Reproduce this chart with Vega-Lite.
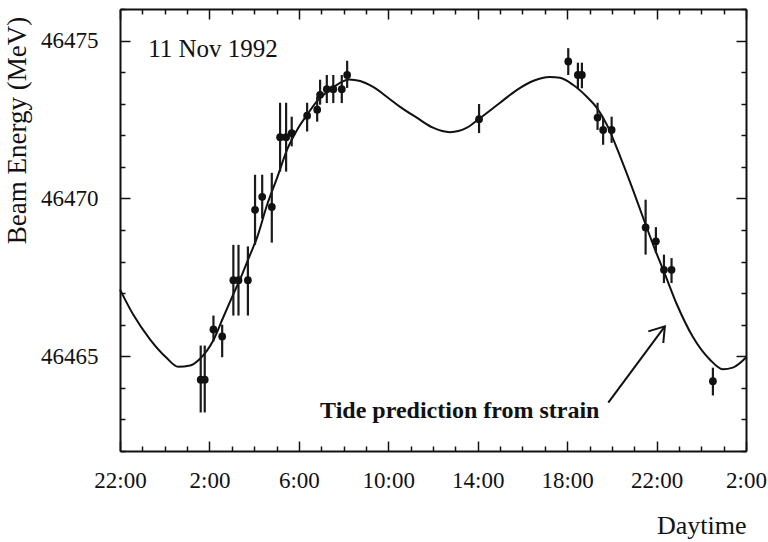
{
  "$schema": "https://vega.github.io/schema/vega-lite/v6.json",
  "width": 626,
  "height": 442,
  "autosize": {"type": "none"},
  "padding": {"left": 120, "top": 9, "right": 22, "bottom": 91},
  "background": "white",
  "config": {
    "font": "Liberation Serif",
    "view": {"stroke": null},
    "axis": {
      "grid": false,
      "domainColor": "#111",
      "domainWidth": 2,
      "tickColor": "#111",
      "tickWidth": 1.5,
      "labelFont": "Liberation Serif",
      "labelFontSize": 23,
      "labelColor": "#111",
      "labelFontWeight": "normal",
      "titleFont": "Liberation Serif",
      "titleFontWeight": "normal",
      "titleColor": "#111"
    }
  },
  "datasets": {
    "curve": [
      {"h": -2.0, "v": 46467.11}, {"h": -1.41, "v": 46466.32}, {"h": -0.65, "v": 46465.53},
      {"h": 0.07, "v": 46464.96}, {"h": 0.6, "v": 46464.67}, {"h": 1.14, "v": 46464.71},
      {"h": 1.59, "v": 46464.93}, {"h": 2.17, "v": 46465.5}, {"h": 2.61, "v": 46466.22},
      {"h": 3.06, "v": 46466.95}, {"h": 3.46, "v": 46467.59}, {"h": 3.82, "v": 46468.22},
      {"h": 4.13, "v": 46468.76}, {"h": 4.58, "v": 46469.8}, {"h": 5.03, "v": 46470.66},
      {"h": 5.47, "v": 46471.54}, {"h": 5.92, "v": 46472.17}, {"h": 6.37, "v": 46472.65},
      {"h": 6.86, "v": 46473.12}, {"h": 7.4, "v": 46473.44}, {"h": 7.84, "v": 46473.66},
      {"h": 8.25, "v": 46473.77}, {"h": 8.74, "v": 46473.72}, {"h": 9.32, "v": 46473.53},
      {"h": 9.99, "v": 46473.19}, {"h": 10.53, "v": 46472.9}, {"h": 11.29, "v": 46472.55},
      {"h": 12.0, "v": 46472.24}, {"h": 12.76, "v": 46472.1}, {"h": 13.52, "v": 46472.24},
      {"h": 14.06, "v": 46472.52}, {"h": 15.0, "v": 46473.03}, {"h": 15.76, "v": 46473.44},
      {"h": 16.47, "v": 46473.72}, {"h": 17.23, "v": 46473.85}, {"h": 17.68, "v": 46473.82},
      {"h": 18.26, "v": 46473.6}, {"h": 18.88, "v": 46473.22}, {"h": 19.33, "v": 46472.87},
      {"h": 19.78, "v": 46472.33}, {"h": 20.36, "v": 46471.35}, {"h": 20.94, "v": 46470.28},
      {"h": 21.48, "v": 46469.23}, {"h": 21.93, "v": 46468.38}, {"h": 22.33, "v": 46467.68},
      {"h": 22.91, "v": 46466.64}, {"h": 23.62, "v": 46465.62}, {"h": 24.38, "v": 46464.9},
      {"h": 24.96, "v": 46464.59}, {"h": 25.41, "v": 46464.64}, {"h": 26.0, "v": 46464.96}
    ],
    "meas": [
      {"h": 1.61, "v": 46464.26, "lo": 46463.22, "hi": 46465.34},
      {"h": 1.79, "v": 46464.26, "lo": 46463.22, "hi": 46465.34},
      {"h": 2.18, "v": 46465.85, "lo": 46465.47, "hi": 46466.29},
      {"h": 2.57, "v": 46465.63, "lo": 46464.97, "hi": 46466.0},
      {"h": 3.07, "v": 46467.41, "lo": 46466.29, "hi": 46468.53},
      {"h": 3.3, "v": 46467.41, "lo": 46466.29, "hi": 46468.53},
      {"h": 3.72, "v": 46467.41, "lo": 46466.29, "hi": 46468.48},
      {"h": 4.04, "v": 46469.64, "lo": 46468.53, "hi": 46470.75},
      {"h": 4.36, "v": 46470.05, "lo": 46469.36, "hi": 46470.75},
      {"h": 4.79, "v": 46469.73, "lo": 46468.6, "hi": 46470.81},
      {"h": 5.16, "v": 46471.94, "lo": 46470.85, "hi": 46473.03},
      {"h": 5.43, "v": 46471.94, "lo": 46470.85, "hi": 46473.03},
      {"h": 5.68, "v": 46472.07, "lo": 46471.65, "hi": 46472.59},
      {"h": 6.37, "v": 46472.62, "lo": 46472.12, "hi": 46473.03},
      {"h": 6.82, "v": 46472.81, "lo": 46472.43, "hi": 46473.22},
      {"h": 6.95, "v": 46473.28, "lo": 46472.97, "hi": 46473.76},
      {"h": 7.25, "v": 46473.46, "lo": 46473.02, "hi": 46473.91},
      {"h": 7.54, "v": 46473.46, "lo": 46473.02, "hi": 46473.91},
      {"h": 7.92, "v": 46473.46, "lo": 46473.02, "hi": 46473.91},
      {"h": 8.16, "v": 46473.91, "lo": 46473.5, "hi": 46474.36},
      {"h": 14.06, "v": 46472.51, "lo": 46472.07, "hi": 46472.99},
      {"h": 18.05, "v": 46474.34, "lo": 46473.91, "hi": 46474.76},
      {"h": 18.48, "v": 46473.91, "lo": 46473.49, "hi": 46474.3},
      {"h": 18.66, "v": 46473.91, "lo": 46473.49, "hi": 46474.3},
      {"h": 19.36, "v": 46472.56, "lo": 46472.17, "hi": 46473.03},
      {"h": 19.61, "v": 46472.17, "lo": 46471.7, "hi": 46472.54},
      {"h": 19.99, "v": 46472.17, "lo": 46471.76, "hi": 46472.59},
      {"h": 21.51, "v": 46469.08, "lo": 46468.22, "hi": 46469.96},
      {"h": 21.97, "v": 46468.64, "lo": 46468.27, "hi": 46469.09},
      {"h": 22.33, "v": 46467.74, "lo": 46467.32, "hi": 46468.22},
      {"h": 22.67, "v": 46467.74, "lo": 46467.32, "hi": 46468.11},
      {"h": 24.52, "v": 46464.21, "lo": 46463.76, "hi": 46464.64}
    ],
    "notes": [
      {"h": -0.74, "v": 46474.48, "label": "11 Nov 1992", "kind": "date"},
      {"h": 6.95, "v": 46463.06, "label": "Tide prediction from strain", "kind": "tide"}
    ],
    "arrow": [
      {"seg": "shaft", "o": 1, "h": 19.84, "v": 46463.53},
      {"seg": "shaft", "o": 2, "h": 22.37, "v": 46465.95},
      {"seg": "head", "o": 1, "h": 21.63, "v": 46465.79},
      {"seg": "head", "o": 2, "h": 22.37, "v": 46465.95},
      {"seg": "head", "o": 3, "h": 22.3, "v": 46465.42}
    ]
  },
  "layer": [
    {
      "data": {"name": "curve"},
      "mark": {"type": "line", "color": "#111", "strokeWidth": 2, "interpolate": "monotone"},
      "encoding": {
        "x": {
          "field": "h", "type": "quantitative",
          "scale": {"domain": [-2, 26], "nice": false, "zero": false},
          "axis": {
            "orient": "bottom",
            "title": "Daytime",
            "titleFontSize": 26,
            "titleAlign": "right",
            "titleAnchor": "end",
            "titleX": 626,
            "titleY": 82,
            "titleBaseline": "alphabetic",
            "values": [-2,-1,0,1,2,3,4,5,6,7,8,9,10,11,12,13,14,15,16,17,18,19,20,21,22,23,24,25,26],
            "labelExpr": "(datum.value+2)%4==0 ? ((datum.value+24)%24)+':00' : ''",
            "labelPadding": 28,
            "labelFlush": false,
            "labelOverlap": false,
            "tickSize": {"condition": {"test": "(datum.value+2)%4==0", "value": -10}, "value": -5}
          }
        },
        "y": {
          "field": "v", "type": "quantitative",
          "scale": {"domain": [46462, 46476], "nice": false, "zero": false},
          "axis": {
            "orient": "left",
            "title": "Beam Energy (MeV)",
            "titleFontSize": 27,
            "titleAngle": -90,
            "titleAlign": "center",
            "titleBaseline": "middle",
            "titleX": -103,
            "titleY": 121,
            "values": [46462,46463,46464,46465,46466,46467,46468,46469,46470,46471,46472,46473,46474,46475,46476],
            "labelExpr": "datum.value%5==0 ? format(datum.value,'d') : ''",
            "labelPadding": 32,
            "labelOverlap": false,
            "labelFlush": false,
            "tickSize": {"condition": {"test": "datum.value%5==0", "value": -10}, "value": -5}
          }
        }
      }
    },
    {
      "data": {"name": "meas"},
      "mark": {"type": "rule", "color": "#1a1a1a", "strokeWidth": 2.2},
      "encoding": {
        "x": {
          "field": "h", "type": "quantitative",
          "axis": {
            "orient": "top",
            "title": null,
            "labels": false,
            "values": [-2,-1,0,1,2,3,4,5,6,7,8,9,10,11,12,13,14,15,16,17,18,19,20,21,22,23,24,25,26],
            "tickSize": {"condition": {"test": "(datum.value+2)%4==0", "value": -10}, "value": -5}
          }
        },
        "y": {
          "field": "lo", "type": "quantitative",
          "axis": {
            "orient": "right",
            "title": null,
            "labels": false,
            "values": [46462,46463,46464,46465,46466,46467,46468,46469,46470,46471,46472,46473,46474,46475,46476],
            "tickSize": {"condition": {"test": "datum.value%5==0", "value": -10}, "value": -5}
          }
        },
        "y2": {"field": "hi"}
      }
    },
    {
      "data": {"name": "meas"},
      "mark": {"type": "point", "filled": true, "shape": "circle", "size": 60, "color": "#111", "opacity": 1},
      "encoding": {
        "x": {"field": "h", "type": "quantitative", "axis": null},
        "y": {"field": "v", "type": "quantitative", "axis": null}
      }
    },
    {
      "data": {"name": "notes"},
      "transform": [{"filter": "datum.kind == 'date'"}],
      "mark": {"type": "text", "align": "left", "baseline": "alphabetic", "font": "Liberation Serif", "fontSize": 25, "color": "#111"},
      "encoding": {
        "x": {"field": "h", "type": "quantitative", "axis": null},
        "y": {"field": "v", "type": "quantitative", "axis": null},
        "text": {"field": "label"}
      }
    },
    {
      "data": {"name": "notes"},
      "transform": [{"filter": "datum.kind == 'tide'"}],
      "mark": {"type": "text", "align": "left", "baseline": "alphabetic", "font": "Liberation Serif", "fontSize": 24, "fontWeight": "bold", "color": "#111"},
      "encoding": {
        "x": {"field": "h", "type": "quantitative", "axis": null},
        "y": {"field": "v", "type": "quantitative", "axis": null},
        "text": {"field": "label"}
      }
    },
    {
      "data": {"name": "arrow"},
      "mark": {"type": "line", "color": "#111", "strokeWidth": 2},
      "encoding": {
        "x": {"field": "h", "type": "quantitative", "axis": null},
        "y": {"field": "v", "type": "quantitative", "axis": null},
        "detail": {"field": "seg"},
        "order": {"field": "o"}
      }
    }
  ],
  "resolve": {"axis": {"x": "independent", "y": "independent"}}
}
